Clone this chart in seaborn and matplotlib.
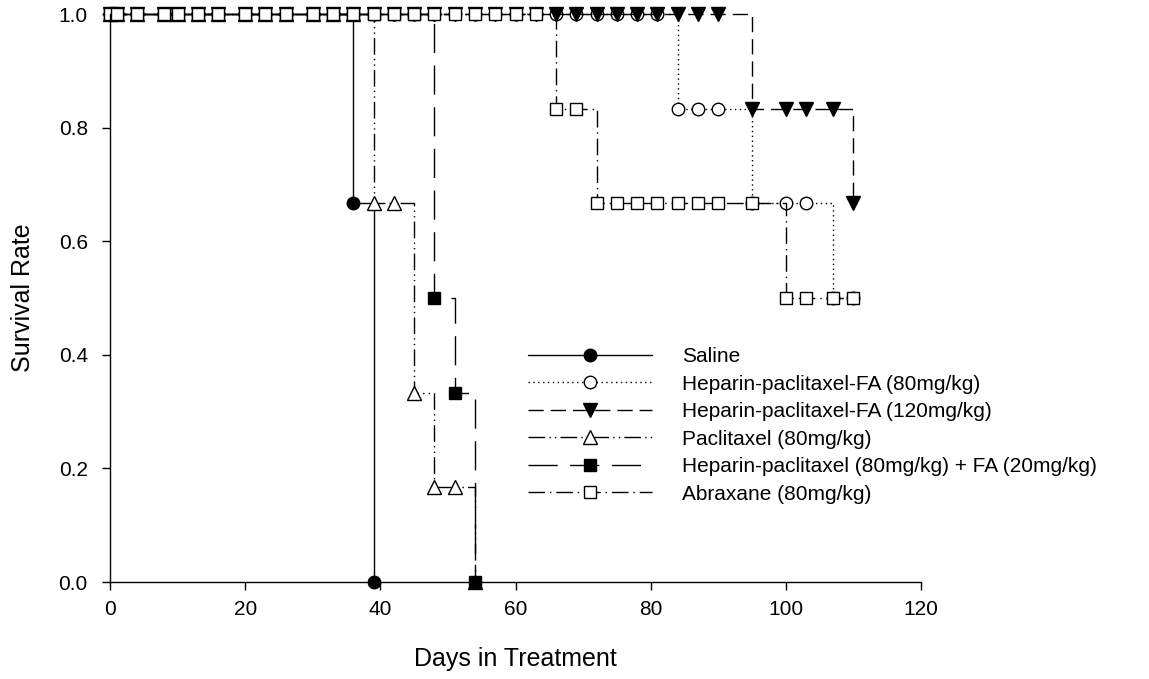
import numpy as np
import pandas as pd
import matplotlib
matplotlib.use("Agg")
import matplotlib.pyplot as plt
import seaborn as sns

# ── data ─────────────────────────────────────────────────────────────────────
obs_days = [0, 1, 4, 8, 10, 13, 16, 20, 23, 26, 30, 33, 36, 39, 42, 45, 48, 51,
            54, 57, 60, 63, 66, 69, 72, 75, 78, 81, 84, 87, 90, 95, 100, 103, 107, 110]

nan = np.nan
saline = [1, 1, 1, 1, 1, 1, 1, 1, 1, 1, 1, 1, 0.667, 0] + [nan] * 22
hpf_80 = [1] * 28 + [0.833, 0.833, 0.833, 0.667, 0.667, 0.667, 0.5, 0.5]
hpf_120 = [1] * 31 + [0.833, 0.833, 0.833, 0.833, 0.667]
paclitaxel = [1] * 13 + [0.667, 0.667, 0.333, 0.167, 0.167, 0] + [nan] * 17
hp_fa = [1] * 16 + [0.5, 0.333, 0] + [nan] * 17
abraxane = [1] * 22 + [0.833, 0.833] + [0.667] * 8 + [0.5, 0.5, 0.5, 0.5]

series = ["Saline",
          "Heparin-paclitaxel-FA (80mg/kg)",
          "Heparin-paclitaxel-FA (120mg/kg)",
          "Paclitaxel (80mg/kg)",
          "Heparin-paclitaxel (80mg/kg) + FA (20mg/kg)",
          "Abraxane (80mg/kg)"]
values = [saline, hpf_80, hpf_120, paclitaxel, hp_fa, abraxane]

x_ticks = [0, 20, 40, 60, 80, 100, 120]
y_ticks = [0.0, 0.2, 0.4, 0.6, 0.8, 1.0]

# ── styles ───────────────────────────────────────────────────────────────────
styles = [
    dict(marker="o", mfc="black", ls="-"),
    dict(marker="o", mfc="white", ls=(0, (1, 2.5))),
    dict(marker="v", mfc="black", ls=(0, (11, 5))),
    dict(marker="^", mfc="white", ls=(0, (12, 3, 1, 3, 1, 3))),
    dict(marker="s", mfc="black", ls=(0, (21, 9))),
    dict(marker="s", mfc="white", ls=(0, (12, 3.5, 1, 3.5))),
]
sizes = [9, 9, 9.5, 9.5, 9, 8.5]

sns.set_theme(style="ticks")
plt.rcParams["font.family"] = ["Liberation Sans", "DejaVu Sans"]
plt.rcParams.update({"text.color": "black", "axes.labelcolor": "black",
                     "xtick.color": "black", "ytick.color": "black"})

fig = plt.figure(figsize=(11.49, 6.79), dpi=100)
ax = fig.add_axes([110 / 1149, 1 - 582 / 679, (921 - 110) / 1149, (582 - 14) / 679])

for name, vals, st, ms in zip(series, values, styles, sizes):
    df = pd.DataFrame({"day": obs_days, "surv": vals}).dropna()
    sns.lineplot(data=df, x="day", y="surv", ax=ax, estimator=None, sort=False,
                 drawstyle="steps-post", color="black", lw=1.0,
                 linestyle=st["ls"], marker=st["marker"], markersize=ms,
                 markerfacecolor=st["mfc"], markeredgecolor="black",
                 markeredgewidth=1.0, clip_on=False, label=name)

ax.set_xlim(0, 120)
ax.set_ylim(0, 1)
ax.set_xticks(x_ticks)
ax.set_yticks(y_ticks)
ax.set_yticklabels([f"{v:.1f}" for v in y_ticks])
ax.tick_params(axis="both", labelsize=15, length=6, width=1, colors="black",
               direction="out")
ax.tick_params(axis="x", pad=7)
ax.tick_params(axis="y", pad=10)
for side in ["top", "right"]:
    ax.spines[side].set_visible(False)
for side in ["left", "bottom"]:
    ax.spines[side].set_color("black")
    ax.spines[side].set_linewidth(1)

ax.set_xlabel("Days in Treatment", fontsize=18, labelpad=20)
ax.set_ylabel("Survival Rate", fontsize=18, labelpad=17)

ax.legend(loc="upper left", bbox_to_anchor=(528 / 1149, 1 - 347 / 679),
          bbox_transform=fig.transFigure, frameon=False, fontsize=15,
          numpoints=1, handlelength=5.95, handletextpad=1.44,
          labelspacing=0.41, borderpad=0, borderaxespad=0)

plt.savefig("out.png", dpi=100)
